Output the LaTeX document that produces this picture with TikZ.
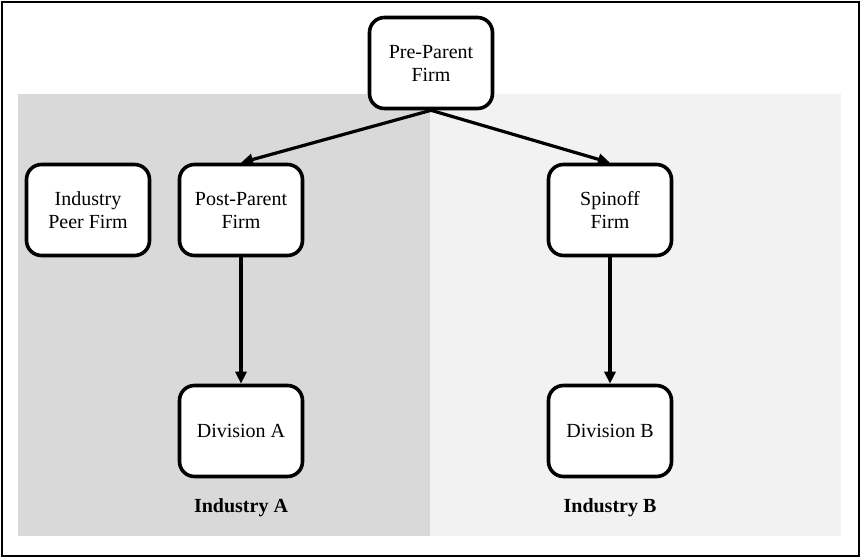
\documentclass[tikz,border=0pt]{standalone}
\usepackage{fontspec}
\setmainfont{Liberation Serif}
\usetikzlibrary{arrows.meta}
\begin{document}
\begin{tikzpicture}[x=1pt,y=-1pt,
  firm/.style={draw=black,line width=3.6pt,fill=white,rounded corners=15pt,minimum width=123pt,minimum height=91pt,align=center,font=\fontsize{20}{23}\selectfont,inner sep=0pt},
  conn/.style={line width=3.2pt,-{Triangle[length=12pt,width=11pt]}},
  lab/.style={font=\fontsize{20}{23}\selectfont\bfseries}]
\useasboundingbox (0,0) rectangle (862,559);
\draw[line width=2pt] (2,2) rectangle (859,556);
\fill[fill={rgb,255:red,217;green,217;blue,217}] (18,94) rectangle (430,536);
\fill[fill={rgb,255:red,242;green,242;blue,242}] (430,94) rectangle (841,536);
\node[firm] (pre) at (431,63) {Pre-Parent\\Firm};
\node[firm] (peer) at (88,210) {Industry\\Peer Firm};
\node[firm] (post) at (241,210) {Post-Parent\\Firm};
\node[firm] (spin) at (610,210) {Spinoff\\Firm};
\node[firm] (diva) at (241,431) {Division A};
\node[firm] (divb) at (610,431) {Division B};
\node[lab] (inda) at (241,508) {Industry A};
\node[lab] (indb) at (610,508) {Industry B};
\draw[conn] (pre.south) -- (post.north);
\draw[conn] (pre.south) -- (spin.north);
\draw[conn] (post) -- (diva);
\draw[conn] (spin) -- (divb);
\end{tikzpicture}
\end{document}
